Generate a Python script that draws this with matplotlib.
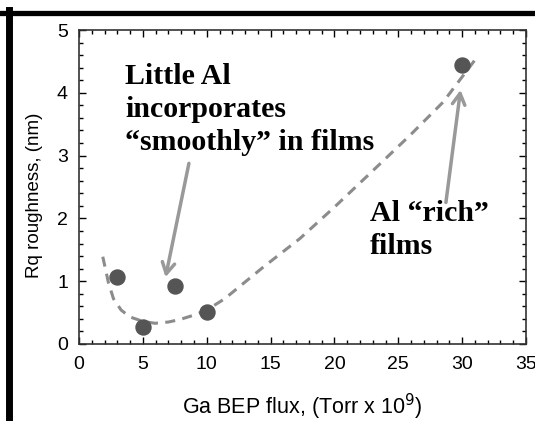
import matplotlib
matplotlib.use("Agg")
import matplotlib.pyplot as plt
from matplotlib.lines import Line2D
from matplotlib.ticker import MultipleLocator

# measured points
flux = [3, 5, 7.5, 10, 30]
rq = [1.07, 0.27, 0.92, 0.51, 4.44]

# dashed trend line
trend_x = [1.86, 2.3, 2.7, 3.3, 4.0, 5.0, 5.95, 7.0, 7.9, 9.0, 10.0, 11.4, 14.4, 17.3, 20.0, 22.8, 25.9, 28.5, 31.1]
trend_y = [1.39, 0.98, 0.72, 0.54, 0.43, 0.36, 0.33, 0.35, 0.39, 0.46, 0.54, 0.72, 1.22, 1.68, 2.18, 2.72, 3.32, 3.85, 4.55]

fig = plt.figure(figsize=(5.35, 4.21), dpi=100)
ax = fig.add_axes([0.1477, 0.1829, 0.8355, 0.7458])

ax.plot(trend_x, trend_y, ls=(0, (3.3, 2.4)), color="#8c8c8c", lw=2.2, zorder=2)
ax.plot(flux, rq, "o", color="#555555", ms=10.8, zorder=3)

ax.set_xlim(0, 35)
ax.set_ylim(0, 5)
ax.xaxis.set_major_locator(MultipleLocator(5))
ax.xaxis.set_minor_locator(MultipleLocator(1))
ax.yaxis.set_major_locator(MultipleLocator(1))
ax.yaxis.set_minor_locator(MultipleLocator(0.2))
ax.tick_params(which="both", direction="in", top=True, right=True, width=1)
ax.tick_params(which="major", length=5, labelsize=14)
ax.tick_params(axis="x", which="major", pad=9)
ax.tick_params(axis="y", which="major", pad=8)
ax.tick_params(which="minor", length=3)
for lab in ax.get_xticklabels() + ax.get_yticklabels():
    lab.set_family("Liberation Sans")
for s in ax.spines.values():
    s.set_linewidth(1.2)
    s.set_color("#333333")

ax.set_xlabel("Ga BEP flux, (Torr x 10$^9$)", fontsize=15.5, family="Liberation Sans")
ax.set_ylabel("Rq roughness, (nm)", fontsize=13.5, family="Liberation Sans")
ax.xaxis.set_label_coords(0.5, -0.152)
ax.yaxis.set_label_coords(-0.08, 0.475)

txt = dict(family="Liberation Serif", fontweight="bold", fontsize=21.5, color="black",
           va="top", ha="left", linespacing=1.3)
ax.text(3.6, 4.48, "Little Al\nincorporates\n\u201csmoothly\u201d in films", **txt)
ax.text(22.8, 2.29, "Al \u201crich\u201d\nfilms", **txt)

arrow = dict(arrowstyle="->,head_length=0.8,head_width=0.45", color="#999999", lw=2.5)
ax.annotate("", xy=(6.73, 1.02), xytext=(8.65, 2.92), arrowprops=arrow)
ax.annotate("", xy=(29.9, 4.09), xytext=(28.7, 2.21), arrowprops=arrow)

# black frame on the top and left of the slide crop
fig.add_artist(Line2D([0, 1], [1 - 12.8 / 421] * 2, color="black", lw=3.8, transform=fig.transFigure))
fig.add_artist(Line2D([8.5 / 535] * 2, [0, 1 - 10.2 / 421], color="black", lw=5, transform=fig.transFigure))

fig.savefig("out.png", dpi=100)
